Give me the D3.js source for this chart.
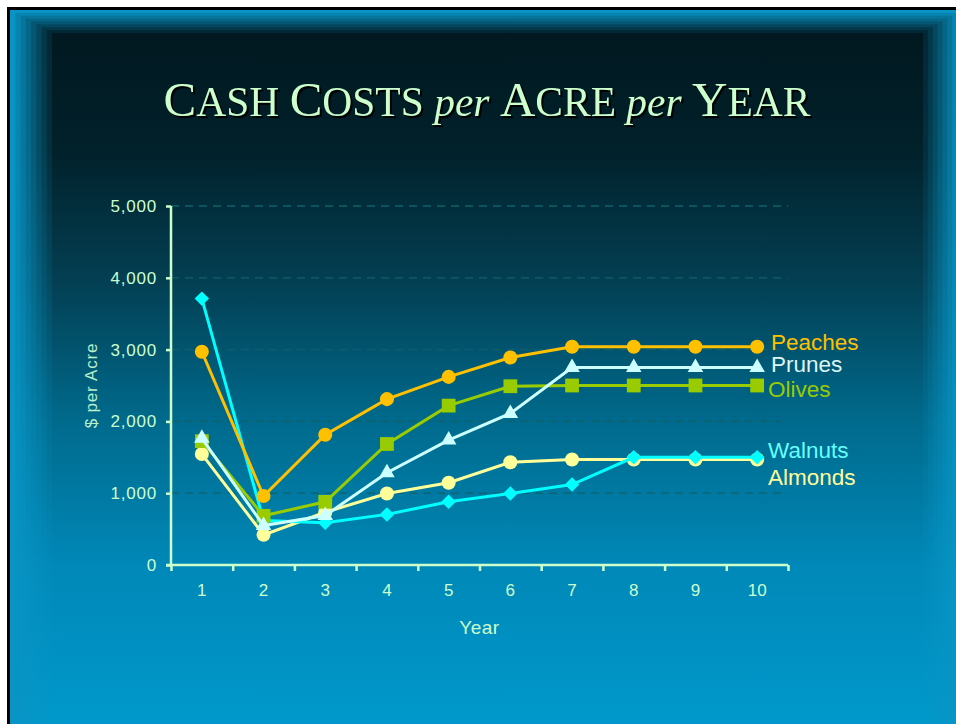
<!DOCTYPE html>
<html>
<head>
<meta charset="utf-8">
<script src="https://cdn.jsdelivr.net/npm/d3@7"></script>
<style>
  html, body { margin: 0; padding: 0; background: #fff; overflow: hidden; }
  svg { display: block; }
</style>
</head>
<body>
<svg id="chart" width="956" height="724"></svg>
<script>
// values
const years = ['1', '2', '3', '4', '5', '6', '7', '8', '9', '10'];
const yTicks = [0, 1000, 2000, 3000, 4000, 5000];

const almonds = [1545, 420, 735, 995, 1145, 1430, 1470, 1470, 1470, 1470];
const walnuts = [3710, 620, 590, 705, 880, 995, 1120, 1500, 1500, 1500];
const olives  = [1725, 685, 880, 1685, 2220, 2490, 2500, 2500, 2500, 2500];
const prunes  = [1765, 550, 690, 1285, 1740, 2110, 2750, 2750, 2750, 2750];
const peaches = [2970, 960, 1815, 2310, 2620, 2890, 3040, 3040, 3040, 3040];

const seriesNames = ['Almonds', 'Walnuts', 'Olives', 'Prunes', 'Peaches'];
const seriesValues = [almonds, walnuts, olives, prunes, peaches];

const diamond = { draw(ctx, size) { // square turned 45 degrees
  const r = Math.sqrt(size / 2);
  ctx.moveTo(0, -r); ctx.lineTo(r, 0); ctx.lineTo(0, r); ctx.lineTo(-r, 0); ctx.closePath();
} };

const styles = {
  Almonds: { color: '#ffff99', label: '#ffff99', symbol: d3.symbolCircle, size: 155, dy: 18, dx: -3 },
  Walnuts: { color: '#00ffff', label: '#66ffff', symbol: diamond, size: 105, dy: -7, dx: -3 },
  Olives:  { color: '#99cc00', label: '#99cc00', symbol: d3.symbolSquare, size: 190, dy: 4, dx: -3 },
  Prunes:  { color: '#ccffff', label: '#ddf5f5', symbol: d3.symbolTriangle, size: 105, dy: -3, dx: 0 },
  Peaches: { color: '#ffc000', label: '#ffc000', symbol: d3.symbolCircle, size: 155, dy: -5, dx: 0 }
};

const W = 956, H = 724;
const svg = d3.select('#chart');
const defs = svg.append('defs');

// slide background: black edge, stepped bevel frame, vertical gradient
svg.append('rect').attr('x', 7).attr('y', 7).attr('width', W).attr('height', H).attr('fill', '#000');

const blue = '#0894c4';
const stops = [
  [0, '#011820'], [0.17, '#01212b'], [0.36, '#033f53'],
  [0.56, '#006a8c'], [0.77, '#0088b8'], [1, '#0099cb']
];
const steps = 9;
for (let i = 0; i < steps; i++) {
  const t = i / (steps - 1);
  const g = defs.append('linearGradient')
    .attr('id', 'bg' + i)
    .attr('gradientUnits', 'userSpaceOnUse')
    .attr('x1', 0).attr('y1', 33).attr('x2', 0).attr('y2', H);
  stops.forEach(([o, c]) => {
    g.append('stop').attr('offset', o).attr('stop-color', d3.interpolateRgb(blue, c)(t));
  });
  const x0 = 10 + t * 42, y0 = 10 + t * 23, x1 = W + 6 - t * 39;
  svg.append('rect')
    .attr('x', x0).attr('y', y0)
    .attr('width', x1 - x0).attr('height', H - y0 + 10)
    .attr('fill', `url(#bg${i})`);
}

// title with small caps built by hand
const title = svg.append('text')
  .attr('x', 487).attr('y', 116)
  .attr('text-anchor', 'middle')
  .attr('font-family', '"Liberation Serif", "Times New Roman", serif')
  .attr('fill', '#ccffcc')
  .style('filter', 'drop-shadow(2px 2px 0px #000)');
const parts = [
  ['C', 49], ['ASH ', 41.5], ['C', 49], ['OSTS ', 41.5], ['per ', 41.5, true],
  ['A', 49], ['CRE ', 41.5], ['per ', 41.5, true], ['Y', 49], ['EAR', 41.5]
];
parts.forEach(([s, size, it]) => {
  title.append('tspan')
    .attr('font-size', size)
    .attr('font-style', it ? 'italic' : 'normal')
    .style('white-space', 'pre')
    .text(s);
});

const margin = { left: 171, right: 788, top: 206, bottom: 565 };
const x = d3.scaleBand().domain(years).range([margin.left, margin.right]);
const xEdge = d3.scaleLinear().domain([0, years.length]).range([margin.left, margin.right]);
const y = d3.scaleLinear().domain([0, 5000]).range([margin.bottom, margin.top]);
const cx = d => x(d) + x.bandwidth() / 2;

const axisColor = '#ccffcc';
const font = '"Liberation Sans", Arial, sans-serif';

// gridlines
svg.append('g')
  .selectAll('line')
  .data(yTicks.filter(d => d > 0))
  .join('line')
  .attr('x1', margin.left).attr('x2', margin.right)
  .attr('y1', d => y(d)).attr('y2', d => y(d))
  .attr('stroke', '#0f6068')
  .attr('stroke-width', 1.3)
  .attr('stroke-dasharray', '8,6');

// y axis
const yAxis = svg.append('g')
  .attr('transform', `translate(${margin.left},0)`)
  .call(d3.axisLeft(y).tickValues(yTicks).tickFormat(d3.format(',')).tickSize(5).tickPadding(9));
yAxis.select('.domain').remove();
yAxis.selectAll('line').attr('stroke', axisColor).attr('stroke-width', 2.5);
yAxis.selectAll('text')
  .attr('fill', axisColor).attr('font-family', font)
  .attr('font-size', 17).attr('letter-spacing', 0.8);
yAxis.append('line')
  .attr('x1', 0).attr('x2', 0)
  .attr('y1', margin.top).attr('y2', margin.bottom)
  .attr('stroke', axisColor).attr('stroke-width', 2.5);

// x axis: ticks on band edges, labels in band centres
const xTicks = svg.append('g')
  .attr('transform', `translate(0,${margin.bottom})`)
  .call(d3.axisBottom(xEdge).ticks(years.length).tickFormat('').tickSize(6));
xTicks.select('.domain').remove();
xTicks.selectAll('line').attr('stroke', axisColor).attr('stroke-width', 2.5);
xTicks.append('line')
  .attr('x1', margin.left - 5).attr('x2', margin.right)
  .attr('stroke', axisColor).attr('stroke-width', 2.5);

const xLabels = svg.append('g')
  .attr('transform', `translate(0,${margin.bottom})`)
  .call(d3.axisBottom(x).tickSize(0).tickPadding(19));
xLabels.select('.domain').remove();
xLabels.selectAll('text').attr('fill', axisColor).attr('font-family', font).attr('font-size', 17);

// axis titles
svg.append('text')
  .attr('x', (margin.left + margin.right) / 2).attr('y', 634)
  .attr('text-anchor', 'middle')
  .attr('fill', axisColor).attr('font-family', font)
  .attr('font-size', 19).attr('letter-spacing', 0.5)
  .text('Year');

svg.append('text')
  .attr('transform', `translate(97,${(margin.top + margin.bottom) / 2}) rotate(-90)`)
  .attr('text-anchor', 'middle')
  .attr('fill', '#b8f0c8').attr('font-family', font)
  .attr('font-size', 17).attr('letter-spacing', 0.8)
  .text('$ per Acre');

// series
const line = d3.line().x((d, i) => cx(years[i])).y(d => y(d));

seriesNames.forEach((name, k) => {
  const st = styles[name];
  const vals = seriesValues[k];
  const g = svg.append('g');
  g.append('path')
    .datum(vals)
    .attr('fill', 'none')
    .attr('stroke', st.color)
    .attr('stroke-width', 3)
    .attr('d', line);
  g.selectAll('path.mark')
    .data(vals)
    .join('path')
    .attr('class', 'mark')
    .attr('transform', (d, i) => `translate(${cx(years[i])},${y(d)})`)
    .attr('d', d3.symbol().type(st.symbol).size(st.size))
    .attr('fill', st.color);
});

// labels at the line ends
seriesNames.forEach((name, k) => {
  const st = styles[name];
  const last = seriesValues[k][years.length - 1];
  svg.append('text')
    .attr('x', margin.right - 17 + st.dx)
    .attr('y', y(last) + st.dy)
    .attr('dy', '0.35em')
    .attr('fill', st.label)
    .attr('font-family', font)
    .attr('font-size', 22.5)
    .text(name);
});
</script>
</body>
</html>
